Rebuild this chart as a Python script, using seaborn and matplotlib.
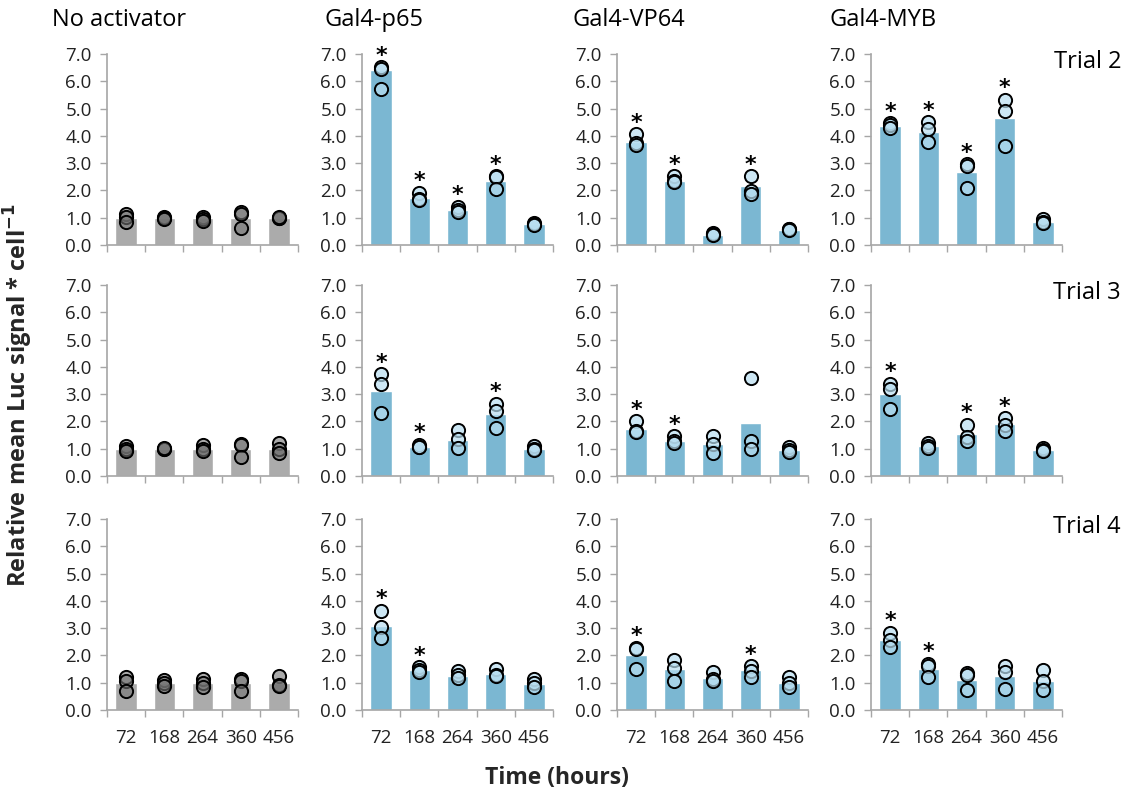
import matplotlib
matplotlib.use("Agg")
import matplotlib.pyplot as plt
import pandas as pd
import seaborn as sns

hours = ["72", "168", "264", "360", "456"]
activators = ["No activator", "Gal4-p65", "Gal4-VP64", "Gal4-MYB"]
trials = ["Trial 2", "Trial 3", "Trial 4"]

# Mean relative Luc signal per cell, one row per activator (No activator, p65, VP64, MYB)
bars_trial2 = [[1.0, 1.0, 1.0, 1.0, 1.0],
               [6.42, 1.73, 1.28, 2.36, 0.77],
               [3.77, 2.36, 0.38, 2.16, 0.55],
               [4.37, 4.15, 2.68, 4.64, 0.85]]
bars_trial3 = [[1.0, 1.0, 1.0, 1.0, 1.0],
               [3.10, 1.07, 1.31, 2.26, 1.00],
               [1.74, 1.28, 1.16, 1.95, 0.94],
               [3.00, 1.10, 1.55, 1.89, 0.95]]
bars_trial4 = [[1.0, 1.0, 1.0, 1.0, 1.0],
               [3.08, 1.45, 1.25, 1.31, 0.95],
               [2.01, 1.49, 1.18, 1.47, 1.00],
               [2.56, 1.49, 1.10, 1.25, 1.05]]

# Replicate measurements (three per time point)
reps_trial2 = [[[1.15, 1.02, 0.85], [1.02, 0.98, 0.95], [1.03, 0.95, 0.88], [1.20, 1.15, 0.62], [1.00, 0.98, 1.02]],
               [[6.52, 6.45, 5.72], [1.92, 1.70, 1.65], [1.40, 1.30, 1.22], [2.53, 2.48, 2.05], [0.80, 0.77, 0.74]],
               [[4.05, 3.72, 3.68], [2.52, 2.35, 2.30], [0.45, 0.40, 0.36], [2.52, 1.98, 1.88], [0.60, 0.58, 0.55]],
               [[4.46, 4.40, 4.27], [4.50, 4.25, 3.78], [2.97, 2.90, 2.10], [5.33, 4.92, 3.63], [0.95, 0.85, 0.80]]]
reps_trial3 = [[[1.10, 0.98, 0.90], [1.00, 0.98, 1.02], [1.12, 1.00, 0.90], [1.18, 1.12, 0.70], [1.20, 1.00, 0.85]],
               [[3.72, 3.38, 2.30], [1.15, 1.08, 1.05], [1.68, 1.34, 1.04], [2.65, 2.40, 1.76], [1.10, 1.00, 0.95]],
               [[2.00, 1.65, 1.60], [1.45, 1.30, 1.20], [1.45, 1.16, 0.85], [3.58, 1.28, 1.00], [1.05, 0.95, 0.88]],
               [[3.38, 3.20, 2.47], [1.22, 1.10, 1.03], [1.88, 1.43, 1.28], [2.12, 1.87, 1.66], [1.02, 0.95, 0.90]]]
reps_trial4 = [[[1.22, 1.05, 0.68], [1.10, 0.98, 0.88], [1.15, 1.00, 0.85], [1.12, 1.08, 0.70], [1.25, 0.90, 0.88]],
               [[3.64, 3.03, 2.65], [1.56, 1.45, 1.40], [1.42, 1.30, 1.16], [1.49, 1.30, 1.25], [1.12, 1.00, 0.85]],
               [[2.28, 2.22, 1.49], [1.85, 1.53, 1.07], [1.40, 1.12, 1.05], [1.60, 1.44, 1.22], [1.22, 1.00, 0.85]],
               [[2.83, 2.56, 2.32], [1.70, 1.60, 1.22], [1.37, 1.30, 0.73], [1.63, 1.40, 0.78], [1.45, 1.05, 0.75]]]

# Significance vs. no-activator control (1 = marked with *)
sig_trial2 = [[0, 0, 0, 0, 0], [1, 1, 1, 1, 0], [1, 1, 0, 1, 0], [1, 1, 1, 1, 0]]
sig_trial3 = [[0, 0, 0, 0, 0], [1, 1, 0, 1, 0], [1, 1, 0, 0, 0], [1, 0, 1, 1, 0]]
sig_trial4 = [[0, 0, 0, 0, 0], [1, 1, 0, 0, 0], [1, 0, 0, 1, 0], [1, 1, 0, 0, 0]]

bars_all = [bars_trial2, bars_trial3, bars_trial4]
reps_all = [reps_trial2, reps_trial3, reps_trial4]
sig_all = [sig_trial2, sig_trial3, sig_trial4]

sns.set_theme(style="white")
plt.rcParams["font.family"] = ["Open Sans", "DejaVu Sans"]

BLUE_BAR = "#7BB7D2"
BLUE_DOT = (0.72, 0.87, 0.94, 0.7)
GREY_BAR = "#ABABAB"
GREY_DOT = (0.45, 0.45, 0.45, 0.6)
AXIS_GREY = "#A6A6A6"
TEXT = "#222222"

W, H = 1129, 797
fig = plt.figure(figsize=(W / 100, H / 100), dpi=100)

col_left = [107, 362, 617, 871]
row_top = [54, 285, 519]
ax_w, ax_h = 191, 191

for r, trial in enumerate(trials):
    for c, act in enumerate(activators):
        left = col_left[c] / W
        bottom = 1 - (row_top[r] + ax_h) / H
        ax = fig.add_axes([left, bottom, ax_w / W, ax_h / H])

        bar_df = pd.DataFrame({"hour": hours, "signal": bars_all[r][c]})
        rep_df = pd.DataFrame([(h, v) for h, vals in zip(hours, reps_all[r][c]) for v in vals],
                              columns=["hour", "signal"])
        control = (c == 0)
        sns.barplot(data=bar_df, x="hour", y="signal", order=hours,
                    color=GREY_BAR if control else BLUE_BAR, saturation=1,
                    width=0.56, errorbar=None, ax=ax)
        sns.stripplot(data=rep_df, x="hour", y="signal", order=hours, jitter=False,
                      size=9.5, color="black", edgecolor="black", linewidth=1.4, ax=ax)
        for coll in ax.collections:
            coll.set_facecolor(GREY_DOT if control else BLUE_DOT)
            coll.set_edgecolor("black")
            coll.set_zorder(3)

        for i, flag in enumerate(sig_all[r][c]):
            if flag:
                top = max(reps_all[r][c][i])
                ax.text(i, top + 0.2, "*", ha="center", va="baseline", fontsize=16,
                        fontweight="bold", color="black", family="DejaVu Sans", clip_on=False)

        ax.set_xlim(-0.5, 4.5)
        ax.set_ylim(0, 7)
        ax.set_xlabel("")
        ax.set_ylabel("")
        ax.set_xticks([x - 0.5 for x in range(6)])
        ax.set_xticklabels([])
        ax.set_xticks(range(5), minor=True)
        if r == len(trials) - 1:
            ax.set_xticklabels(hours, minor=True, fontsize=13.5, color=TEXT)
        else:
            ax.set_xticklabels([], minor=True)
        ax.tick_params(axis="x", which="minor", length=0, pad=14)
        ax.set_yticks(range(8))
        ax.set_yticklabels([f"{v:.1f}" for v in range(8)], fontsize=13.5, color=TEXT)
        ax.tick_params(axis="both", which="major", direction="out", length=5,
                       width=1, color=AXIS_GREY, bottom=True, left=True)
        ax.tick_params(axis="y", pad=6)
        for side in ("top", "right"):
            ax.spines[side].set_visible(False)
        for side in ("left", "bottom"):
            ax.spines[side].set_color(AXIS_GREY)
            ax.spines[side].set_linewidth(1.2)
        ax.set_facecolor("none")

        if r == 0:
            fig.text((col_left[c] + 12) / W, 1 - 20 / H, act, ha="center", va="center",
                     fontsize=17, color="black")
    fig.text(1121 / W, 1 - (row_top[r] + 8) / H, trial, ha="right", va="center",
             fontsize=17, color="black")

fig.text(18 / W, 1 - 395 / H, "Relative mean Luc signal * cell$^{\\mathbf{-1}}$",
         rotation=90, ha="center", va="center", fontsize=17, fontweight="bold")
fig.text(557 / W, 1 - 778 / H, "Time (hours)", ha="center", va="center",
         fontsize=16.5, fontweight="bold")

fig.savefig("out.png", dpi=100, facecolor="white")
